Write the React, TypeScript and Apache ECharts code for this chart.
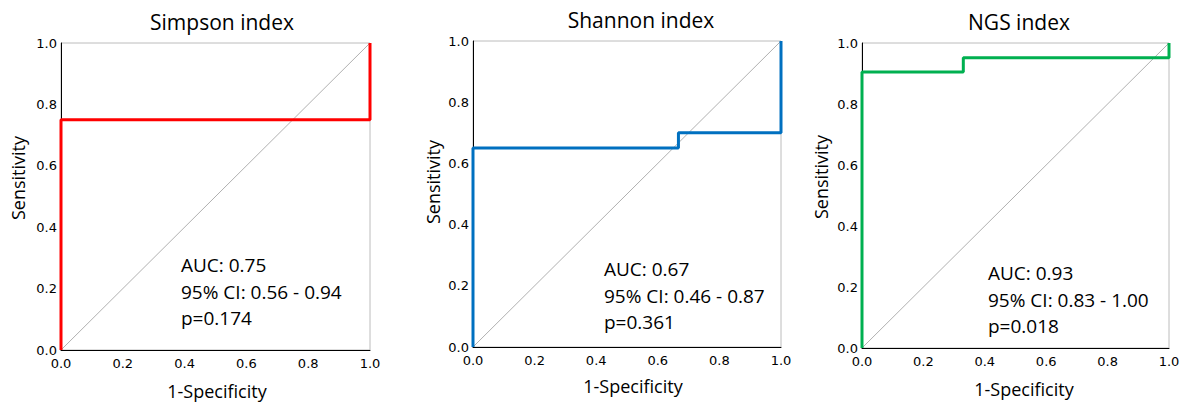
import React, { useEffect, useRef } from "react";
import * as echarts from "echarts";

const titles = ["Simpson index", "Shannon index", "NGS index"];
const simpsonX = [0, 0, 1, 1];
const simpsonY = [0, 0.75, 0.75, 1];
const shannonX = [0, 0, 0.667, 0.667, 1, 1];
const shannonY = [0, 0.65, 0.65, 0.7, 0.7, 1];
const ngsX = [0, 0, 0.33, 0.33, 1, 1];
const ngsY = [0, 0.905, 0.905, 0.952, 0.952, 1];
const refX = [0, 1];
const refY = [0, 1];
const aucLines = ["AUC: 0.75", "AUC: 0.67", "AUC: 0.93"];
const ciLines = ["95% CI: 0.56 - 0.94", "95% CI: 0.46 - 0.87", "95% CI: 0.83 - 1.00"];
const pLines = ["p=0.174", "p=0.361", "p=0.018"];
const xName = "1-Specificity";
const yName = "Sensitivity";

const curvesX = [simpsonX, shannonX, ngsX];
const curvesY = [simpsonY, shannonY, ngsY];
const colors = ["#ff0000", "#0070c0", "#00b050"];

const grids = [
  { left: 61, top: 43, width: 309, height: 307 },
  { left: 473, top: 41, width: 308, height: 306 },
  { left: 862, top: 43, width: 307, height: 305 },
];
const titlePos = [
  { x: 222, y: 22 },
  { x: 641, y: 20 },
  { x: 1019, y: 22 },
];
const xNamePos = [
  { x: 217, y: 391 },
  { x: 633, y: 386 },
  { x: 1024, y: 389 },
];
const yNamePos = [
  { x: 18, y: 178 },
  { x: 433, y: 182 },
  { x: 821, y: 177 },
];
const notePos = [
  { x: 181, y: 265 },
  { x: 604, y: 269 },
  { x: 988, y: 273 },
];

const textFont = "'Open Sans', sans-serif";

export default function App() {
  const ref = useRef<HTMLDivElement>(null);
  useEffect(() => {
    document.body.style.margin = "0";
    const chart = echarts.init(ref.current!, null, { renderer: "svg" });
    const grid = grids.map((g) => ({ ...g, show: true, borderColor: "#bcbcbc", borderWidth: 1, containLabel: false }));
    const axisCommon = {
      type: "value" as const,
      min: 0,
      max: 1,
      interval: 0.2,
      axisLine: { show: true, onZero: false, lineStyle: { color: "#000", width: 1 } },
      axisTick: { show: false },
      splitLine: { show: false },
      axisLabel: {
        color: "#000",
        fontSize: 13,
        fontFamily: "'DejaVu Sans', sans-serif",
        formatter: (v: number) => v.toFixed(1),
      },
    };
    const xAxis = grids.map((_, i) => ({ ...axisCommon, gridIndex: i, axisLabel: { ...axisCommon.axisLabel, margin: 7 } }));
    const yAxis = grids.map((_, i) => ({ ...axisCommon, gridIndex: i, axisLabel: { ...axisCommon.axisLabel, margin: 4 } }));
    const series: any[] = [];
    grids.forEach((_, i) => {
      series.push({
        type: "line",
        xAxisIndex: i,
        yAxisIndex: i,
        data: refX.map((x, k) => [x, refY[k]]),
        symbol: "none",
        lineStyle: { color: "#b0b0b0", width: 1 },
        z: 2,
      });
      series.push({
        type: "line",
        xAxisIndex: i,
        yAxisIndex: i,
        data: curvesX[i].map((x, k) => [x, curvesY[i][k]]),
        symbol: "none",
        lineStyle: { color: colors[i], width: 3 },
        z: 3,
      });
    });
    const graphic: any[] = [];
    grids.forEach((_, i) => {
      graphic.push({
        type: "text",
        x: titlePos[i].x,
        y: titlePos[i].y,
        style: { text: titles[i], fill: "#000", font: `21px ${textFont}`, textAlign: "center", textVerticalAlign: "middle" },
      });
      graphic.push({
        type: "text",
        x: xNamePos[i].x,
        y: xNamePos[i].y,
        style: { text: xName, fill: "#000", font: `18px ${textFont}`, textAlign: "center", textVerticalAlign: "middle" },
      });
      graphic.push({
        type: "text",
        x: yNamePos[i].x,
        y: yNamePos[i].y,
        rotation: Math.PI / 2,
        style: { text: yName, fill: "#000", font: `18px ${textFont}`, textAlign: "center", textVerticalAlign: "middle" },
      });
      [aucLines[i], ciLines[i], pLines[i]].forEach((t, k) => {
        graphic.push({
          type: "text",
          x: notePos[i].x,
          y: notePos[i].y + k * 26.5,
          style: { text: t, fill: "#000", font: `19px ${textFont}`, textAlign: "left", textVerticalAlign: "middle" },
        });
      });
    });
    chart.setOption({
      animation: false,
      backgroundColor: "#fff",
      grid,
      xAxis,
      yAxis,
      series,
      graphic,
    });
    return () => chart.dispose();
  }, []);
  return <div ref={ref} style={{ width: 1192, height: 404 }} />;
}
